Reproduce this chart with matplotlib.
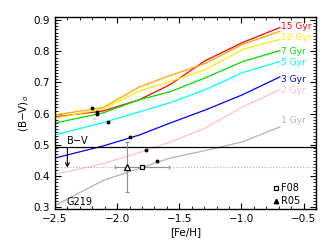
import matplotlib
matplotlib.use('Agg')
import matplotlib.pyplot as plt
from matplotlib.ticker import MultipleLocator

# [Fe/H] grid of the isochrone colours
feh = [-2.5, -2.11, -1.82, -1.575, -1.29, -0.99, -0.69]

bv_15 = [0.590, 0.609, 0.645, 0.693, 0.770, 0.828, 0.876]
bv_12 = [0.596, 0.620, 0.686, 0.722, 0.761, 0.822, 0.864]
bv_10 = [0.586, 0.615, 0.673, 0.703, 0.741, 0.806, 0.838]
bv_7 = [0.570, 0.603, 0.645, 0.670, 0.715, 0.767, 0.802]
bv_5 = [0.532, 0.572, 0.606, 0.635, 0.677, 0.732, 0.767]
bv_3 = [0.458, 0.497, 0.532, 0.570, 0.612, 0.661, 0.718]
bv_2 = [0.406, 0.440, 0.476, 0.509, 0.554, 0.622, 0.677]
bv_1 = [0.306, 0.387, 0.425, 0.458, 0.482, 0.510, 0.558]

ages = ['15 Gyr', None, '10 Gyr', '7 Gyr', '5 Gyr', '3 Gyr', '2 Gyr', '1 Gyr']
colors = ['red', 'orange', '#ffee00', '#00e000', 'cyan', 'blue', 'pink', '#b4b4b4']
label_y = [0.878, None, 0.845, 0.800, 0.764, 0.710, 0.673, 0.577]

# black dots
dot_feh = [-2.20, -2.16, -2.16, -2.07, -1.90, -1.77, -1.68]
dot_bv = [0.619, 0.607, 0.600, 0.574, 0.525, 0.483, 0.448]

bv_obs = 0.492
bv_lim = 0.430

# F08 and R05 points
f08_feh, f08_bv, f08_xerr = -1.80, 0.430, 0.22
r05_feh, r05_bv, r05_yerr = -1.92, 0.430, 0.08

plt.rcParams['font.family'] = 'DejaVu Sans'
plt.rcParams['font.size'] = 7

fig = plt.figure(figsize=(3.33, 2.45), dpi=100)
ax = fig.add_axes([0.165, 0.147, 0.784, 0.784])

series = [bv_15, bv_12, bv_10, bv_7, bv_5, bv_3, bv_2, bv_1]
for bv, c, lab, ly in zip(series, colors, ages, label_y):
    ax.plot(feh, bv, color=c, linewidth=0.9)
    if lab is not None:
        ax.text(-0.685, ly, lab, color=c, fontsize=6.5, va='center', ha='left')

ax.plot(dot_feh, dot_bv, 'o', color='black', markersize=1.8)

ax.axhline(bv_obs, color='black', linewidth=0.9)
ax.axhline(bv_lim, color='#b0b0b0', linewidth=0.8, linestyle=':')
ax.annotate('', xy=(-2.4, bv_lim - 0.003), xytext=(-2.4, bv_obs),
            arrowprops=dict(arrowstyle='->', color='black', linewidth=0.8,
                            shrinkA=0, shrinkB=0))
ax.text(-2.41, bv_obs + 0.004, 'B$-$V', fontsize=7, va='bottom', ha='left')
ax.text(-2.41, 0.318, 'G219', fontsize=7, va='center', ha='left')

ax.errorbar(f08_feh, f08_bv, xerr=f08_xerr, fmt='s', mfc='white', mec='black',
            ms=3.5, mew=0.9, ecolor='#909090', elinewidth=0.8, capsize=1.5)
ax.errorbar(r05_feh, r05_bv, yerr=r05_yerr, fmt='^', mfc='white', mec='black',
            ms=4, mew=0.9, ecolor='#909090', elinewidth=0.8, capsize=1.5)

# legend drawn by hand in the corner
ax.plot([-0.72], [0.363], 's', mfc='white', mec='black', ms=3.2, mew=0.9)
ax.text(-0.68, 0.363, 'F08', fontsize=7, va='center', ha='left')
ax.plot([-0.72], [0.321], '^', color='black', ms=3.2)
ax.text(-0.68, 0.321, 'R05', fontsize=7, va='center', ha='left')

ax.set_xlim(-2.5, -0.4)
ax.set_ylim(0.295, 0.91)
ax.xaxis.set_major_locator(MultipleLocator(0.5))
ax.xaxis.set_minor_locator(MultipleLocator(0.1))
ax.yaxis.set_major_locator(MultipleLocator(0.1))
ax.yaxis.set_minor_locator(MultipleLocator(0.01))
ax.xaxis.set_major_formatter(plt.FuncFormatter(lambda v, p: ('%.1f' % v).replace('-', '\u2212')))
ax.yaxis.set_major_formatter(plt.FuncFormatter(lambda v, p: '%.1f' % v))
ax.tick_params(which='both', direction='in', top=True, right=True, labelsize=7.5)
ax.tick_params(which='major', length=4, width=0.8)
ax.tick_params(which='minor', length=2, width=0.6)
for s in ax.spines.values():
    s.set_linewidth(1.0)

ax.set_xlabel('[Fe/H]', fontsize=7.5, labelpad=2)
ax.set_ylabel('(B$-$V)$_o$', fontsize=7.5, labelpad=2)

fig.savefig('out.png', dpi=100)
